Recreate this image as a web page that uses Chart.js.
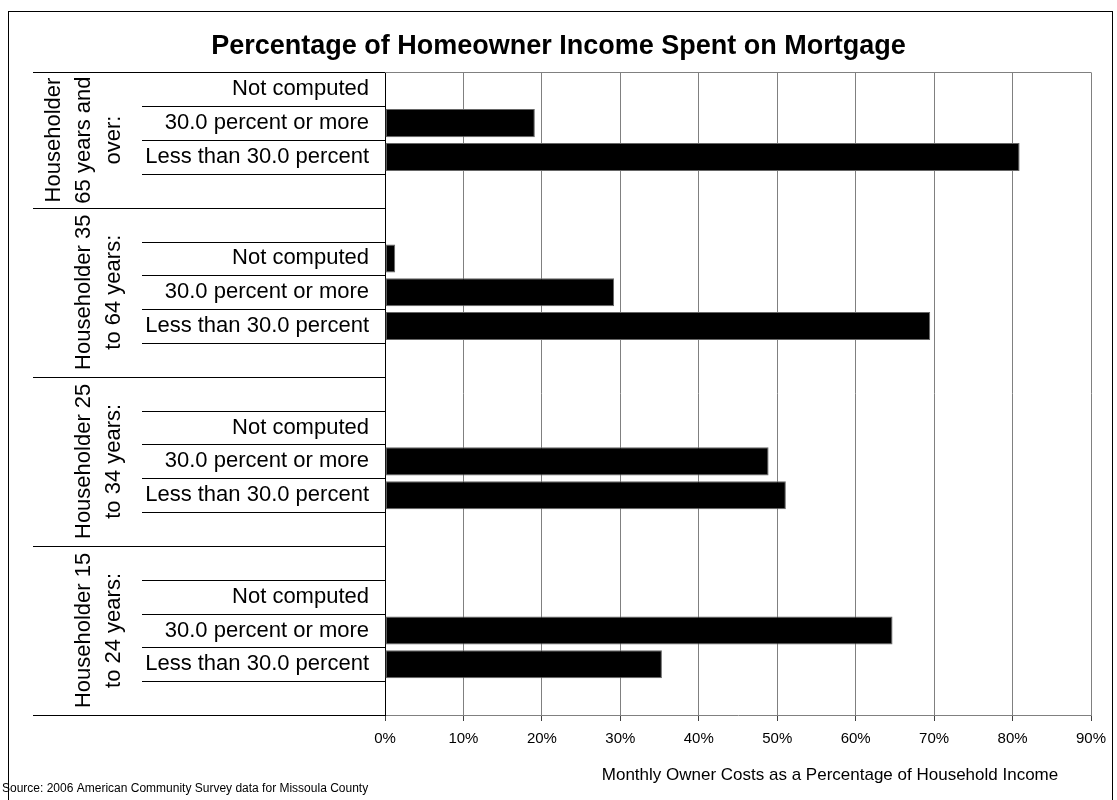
<!DOCTYPE html>
<html>
<head>
<meta charset="utf-8">
<script src="https://cdn.jsdelivr.net/npm/chart.js@4.4.1/dist/chart.umd.min.js"></script>
<style>
  body { margin: 0; background: #fff; }
  canvas { display: block; }
</style>
</head>
<body>
<canvas id="chart" width="1117" height="800"></canvas>
<script>
// group names, top to bottom (each entry is one line of the rotated label)
var groupNames = [
    ["Householder", "65 years and", "over:"],
    ["Householder 35", "to 64 years:"],
    ["Householder 25", "to 34 years:"],
    ["Householder 15", "to 24 years:"]
];
var rowLabels = ["Not computed", "30.0 percent or more", "Less than 30.0 percent"];

// percent of homeowners per group, same order as rowLabels
var age65 = [0, 19.1, 80.9];
var age35 = [1.3, 29.2, 69.5];
var age25 = [0, 48.9, 51.1];
var age15 = [0, 64.7, 35.3];

var xTicks = [0, 10, 20, 30, 40, 50, 60, 70, 80, 90];

var FONT = "'Liberation Sans', Arial, sans-serif";

// build the category list with the blank spacer rows the original sheet had
var labels = [];
var values = [];
var groupEdges = [0];
[age65, age35, age25, age15].forEach(function (vals, g) {
    if (g > 0) { labels.push(""); values.push(null); }
    for (var i = 0; i < rowLabels.length; i++) {
        labels.push(rowLabels[i]);
        values.push(vals[i] === 0 ? null : vals[i]);
    }
    labels.push(""); values.push(null);
    groupEdges.push(labels.length);
});

var decorations = {
    id: "decorations",
    afterDraw: function (chart) {
        var ctx = chart.ctx;
        var y = chart.scales.y;
        var area = chart.chartArea;
        var n = labels.length;
        var step = (y.bottom - y.top) / n;

        ctx.save();
        // outer frame
        ctx.strokeStyle = "#000";
        ctx.lineWidth = 1;
        ctx.strokeRect(8.5, 11.5, 1104, 800);

        // top edge of plot area
        ctx.strokeStyle = "#808080";
        ctx.beginPath();
        ctx.moveTo(area.left, Math.round(area.top) + 0.5);
        ctx.lineTo(area.right, Math.round(area.top) + 0.5);
        ctx.stroke();

        // row and group separators on the category side
        ctx.strokeStyle = "#000";
        for (var i = 0; i <= n; i++) {
            var py = Math.round(y.top + i * step) + 0.5;
            var x0 = groupEdges.indexOf(i) >= 0 ? 33 : 142;
            ctx.beginPath();
            ctx.moveTo(x0, py);
            ctx.lineTo(area.left, py);
            ctx.stroke();
        }

        // rotated group names
        ctx.fillStyle = "#000";
        ctx.font = "22px " + FONT;
        ctx.textAlign = "center";
        ctx.textBaseline = "middle";
        groupNames.forEach(function (lines, g) {
            var cy = y.top + (groupEdges[g] + groupEdges[g + 1]) / 2 * step;
            lines.forEach(function (txt, k) {
                var cx = 114 - (lines.length - 1 - k) * 30;
                ctx.save();
                ctx.translate(cx, cy);
                ctx.rotate(-Math.PI / 2);
                ctx.fillText(txt, 0, 0);
                ctx.restore();
            });
        });

        // axis title and source note
        ctx.font = "17px " + FONT;
        ctx.fillText("Monthly Owner Costs as a Percentage of Household Income", 830, 775);
        ctx.textAlign = "left";
        ctx.font = "12px " + FONT;
        ctx.fillText("Source: 2006 American Community Survey data for Missoula County", 2, 789);
        ctx.restore();
    }
};

window.onload = function () {
    var ctx = document.getElementById("chart").getContext("2d");

    window.theChart = new Chart(ctx, {
        type: "bar",
        data: {
            labels: labels,
            datasets: [{
                data: values,
                backgroundColor: "#000000",
                borderColor: "#666666",
                borderWidth: 1,
                borderSkipped: false,
                barPercentage: 0.83,
                categoryPercentage: 1
            }]
        },
        options: {
            indexAxis: "y",
            responsive: false,
            animation: false,
            devicePixelRatio: 1,
            layout: {
                padding: { top: 0, right: 26, bottom: 0, left: 26 }
            },
            plugins: {
                legend: { display: false },
                tooltip: { enabled: false },
                title: {
                    display: true,
                    text: "Percentage of Homeowner Income Spent on Mortgage",
                    color: "#000",
                    font: { family: FONT, size: 27, weight: "bold" },
                    padding: { top: 30, bottom: 10 }
                }
            },
            scales: {
                x: {
                    type: "linear",
                    min: 0,
                    max: 90,
                    afterBuildTicks: function (scale) {
                        scale.ticks = xTicks.map(function (v) { return { value: v }; });
                    },
                    afterFit: function (scale) { scale.height = 85; },
                    grid: {
                        color: "#808080",
                        tickColor: "#404040",
                        tickLength: 6
                    },
                    border: { color: "#808080" },
                    ticks: {
                        color: "#000",
                        padding: 9,
                        maxRotation: 0,
                        font: { family: FONT, size: 15 },
                        callback: function (v) { return v + "%"; }
                    }
                },
                y: {
                    type: "category",
                    afterFit: function (scale) { scale.width = 359; },
                    grid: { display: false, drawTicks: false },
                    border: { display: true, color: "#000", width: 1 },
                    ticks: {
                        color: "#000",
                        padding: 16,
                        autoSkip: false,
                        font: { family: FONT, size: 22 }
                    }
                }
            }
        },
        plugins: [decorations]
    });
};
</script>
</body>
</html>
